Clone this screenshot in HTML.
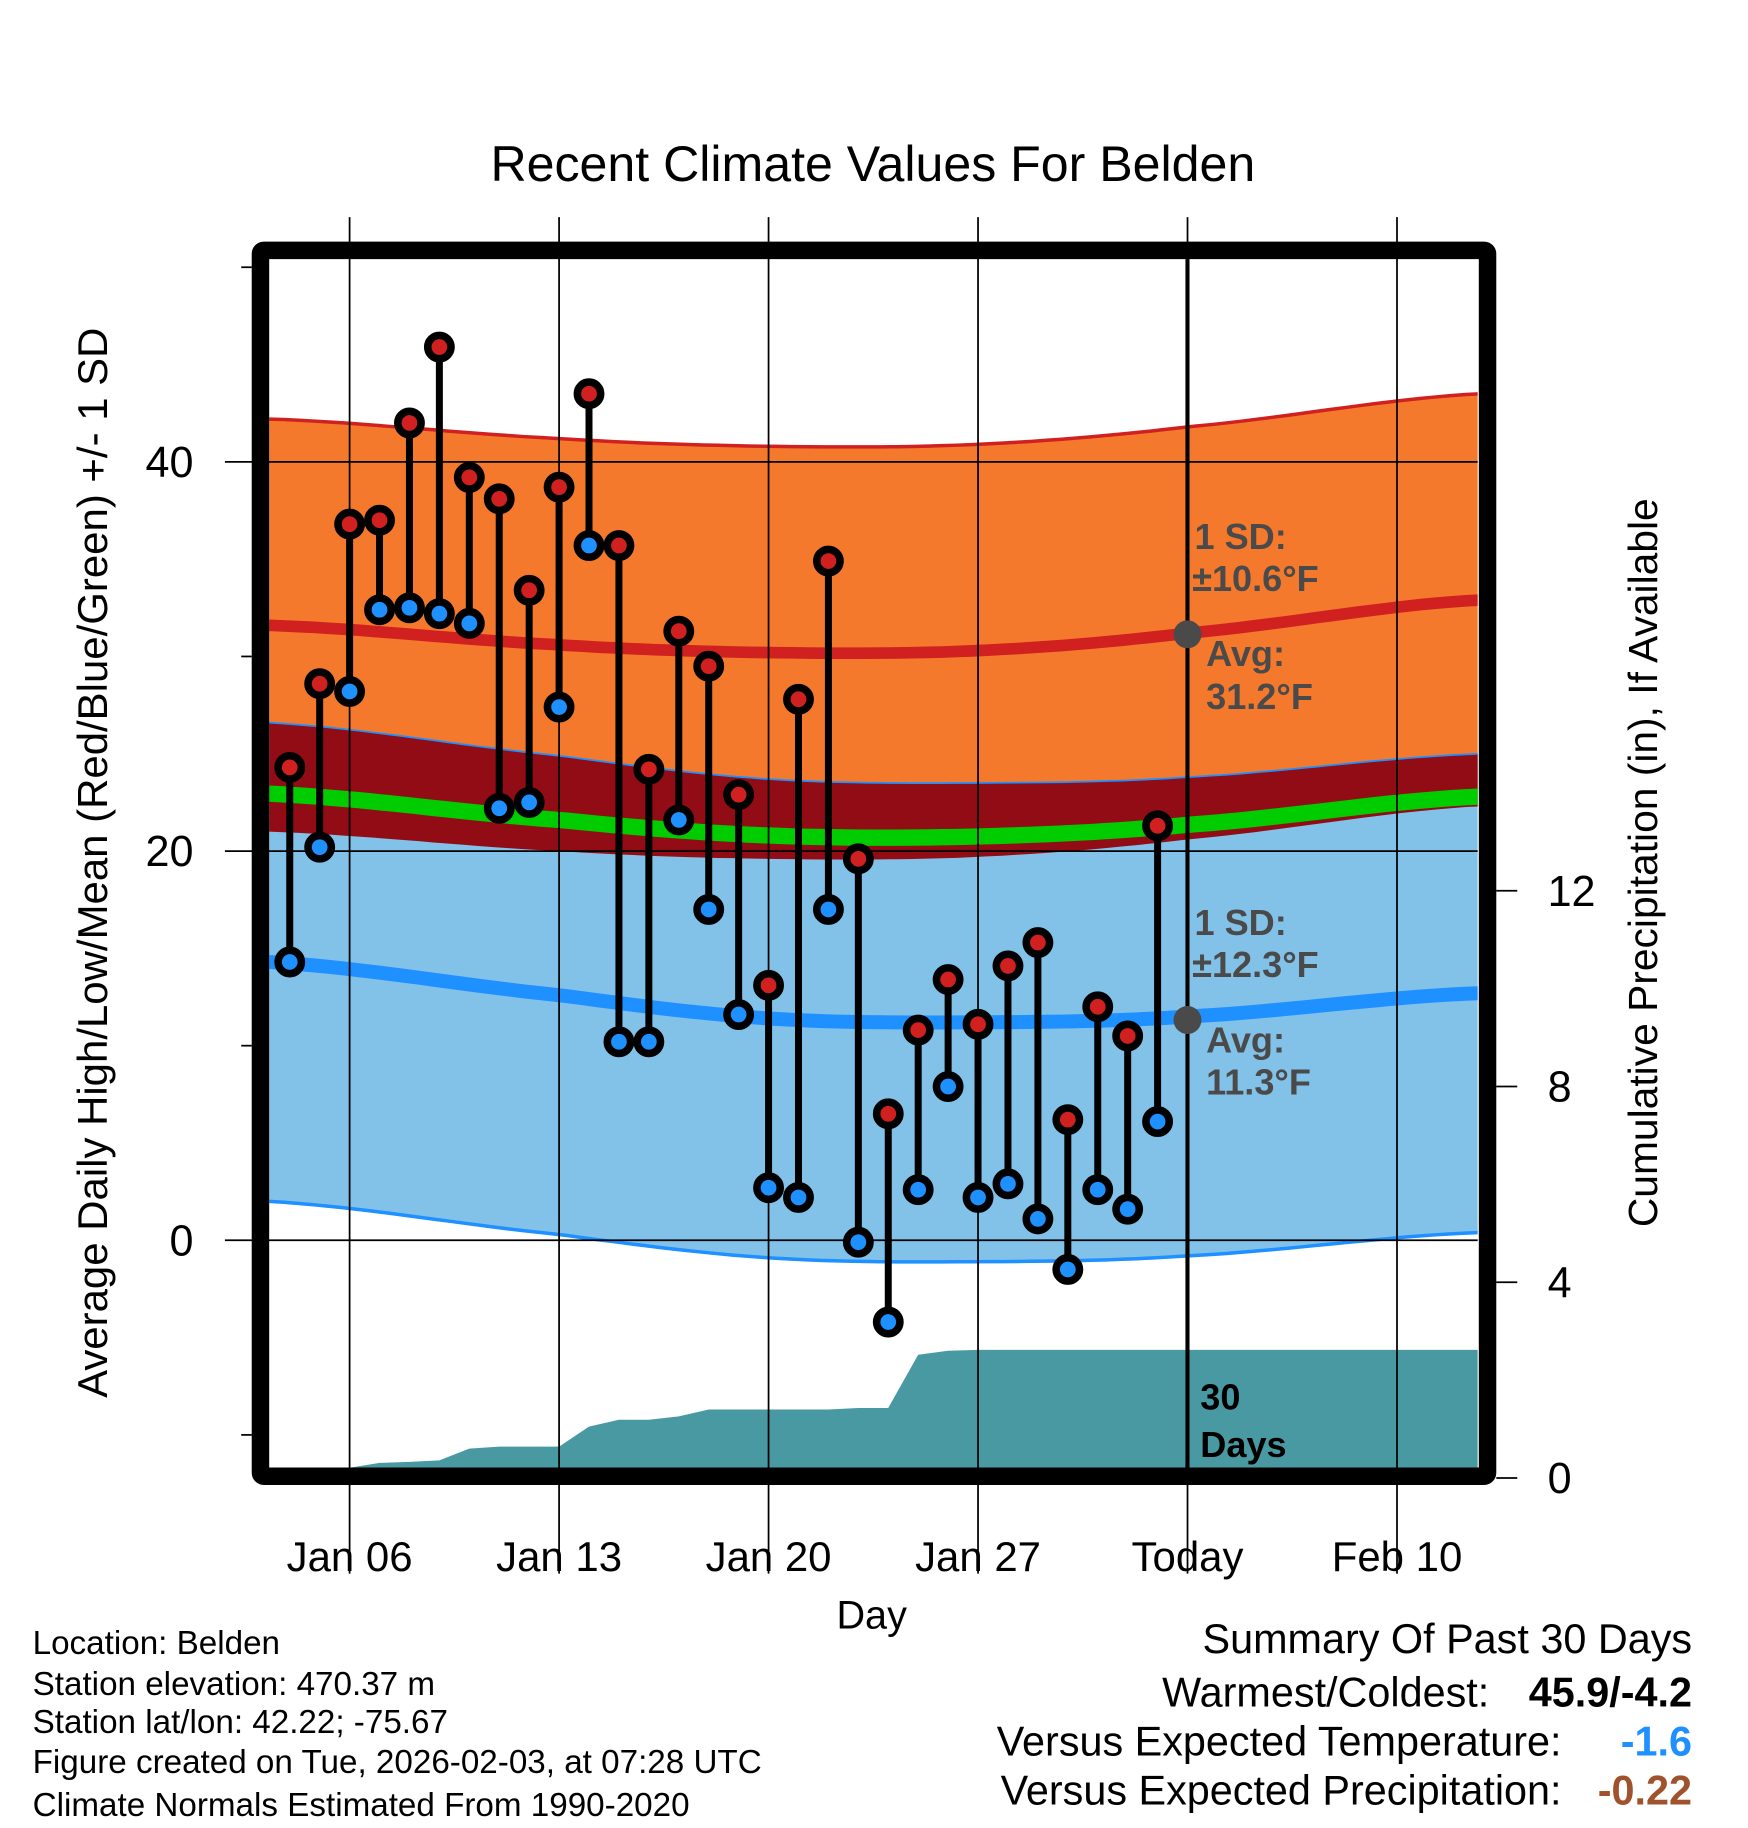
<!DOCTYPE html>
<html><head><meta charset="utf-8"><style>
html,body{margin:0;padding:0;background:#fff;}
svg{display:block;font-family:"Liberation Sans",sans-serif;}
</style></head><body>
<svg id="chart" width="1748" height="1828" viewBox="0 0 1500 1568" xmlns="http://www.w3.org/2000/svg">
<defs><clipPath id="plotclip"><rect x="231" y="222" width="1037" height="1037"/></clipPath></defs>
<text x="749" y="155" font-size="43" text-anchor="middle">Recent Climate Values For Belden</text>
<g id="grid"></g>
<g id="bands" clip-path="url(#plotclip)"></g>
<g id="precip" clip-path="url(#plotclip)"></g>
<g id="vgrid"></g>
<line x1="1019" y1="222" x2="1019" y2="1259" stroke="#000" stroke-width="3.5"/>
<g id="annot" font-weight="bold" font-size="31" fill="#4a4a4a">
<circle cx="1019" cy="544" r="12" fill="#4a4a4a"/>
<circle cx="1019" cy="875" r="12" fill="#4a4a4a"/>
<text x="1025" y="471">1 SD:</text>
<text x="1023" y="507">±10.6°F</text>
<text x="1035" y="571">Avg:</text>
<text x="1035" y="608">31.2°F</text>
<text x="1025" y="802">1 SD:</text>
<text x="1023" y="838">±12.3°F</text>
<text x="1035" y="903">Avg:</text>
<text x="1035" y="939">11.3°F</text>
<text x="1030" y="1209" fill="#000">30</text>
<text x="1030" y="1250" fill="#000">Days</text>
</g>
<g id="obs"></g>
<rect x="223.5" y="214.5" width="1053" height="1052" fill="none" stroke="#000" stroke-width="15" rx="3"/>
<g id="axes"></g>
<text transform="translate(92,740) rotate(-90)" font-size="36" text-anchor="middle">Average Daily High/Low/Mean (Red/Blue/Green) +/- 1 SD</text>
<text transform="translate(1422,740) rotate(-90)" font-size="35" text-anchor="middle">Cumulative Precipitation (in), If Available</text>
<text x="748" y="1397" font-size="34" text-anchor="middle">Day</text>
<g font-size="28.5">
<text x="28" y="1419">Location: Belden</text>
<text x="28" y="1454">Station elevation: 470.37 m</text>
<text x="28" y="1487">Station lat/lon: 42.22; -75.67</text>
<text x="28" y="1521">Figure created on Tue, 2026-02-03, at 07:28 UTC</text>
<text x="28" y="1558">Climate Normals Estimated From 1990-2020</text>
</g>
<g font-size="35.5">
<text x="1452" y="1418" text-anchor="end">Summary Of Past 30 Days</text>
<text x="1278" y="1464" text-anchor="end">Warmest/Coldest:</text>
<text x="1452" y="1464" text-anchor="end" font-weight="bold">45.9/-4.2</text>
<text x="1340" y="1506" text-anchor="end">Versus Expected Temperature:</text>
<text x="1452" y="1506" text-anchor="end" font-weight="bold" fill="#1e90ff">-1.6</text>
<text x="1340" y="1548" text-anchor="end">Versus Expected Precipitation:</text>
<text x="1452" y="1548" text-anchor="end" font-weight="bold" fill="#a0522d">-0.22</text>
</g>
</svg>
<script>
const days=[4,5,6,7,8,9,10,11,12,13,14,15,16,17,18,19,20,21,22,23,24,25,26,27,28,29,30,31,32,33];
const highs=[24.3,28.6,36.8,37.0,42.0,45.9,39.2,38.1,33.4,38.7,43.5,35.7,24.2,31.3,29.5,22.9,13.1,27.8,34.9,19.6,6.5,10.8,13.4,11.1,14.1,15.3,6.2,12.0,10.5,21.3];
const lows=[14.3,20.2,28.2,32.4,32.5,32.2,31.7,22.2,22.5,27.4,35.7,10.2,10.2,21.6,17.0,11.6,2.7,2.2,17.0,-0.1,-4.2,2.6,7.9,2.2,2.9,1.1,-1.5,2.6,1.6,6.1];
const normDays=[3.3,13,20,27,34,43.7];
const highMean=[31.6,30.6,30.2,30.3,31.2,32.9];
const lowMean=[14.3,12.6,11.4,11.2,11.5,12.7];
const highSD=10.6, lowSD=12.3;
const precipDays=[6,7,8,9,10,11,12,13,14,15,16,17,18,19,20,21,22,23,24,25,26,27,28,29,30,31,32,33,44];
const precipVals=[0.21,0.31,0.33,0.36,0.6,0.64,0.64,0.64,1.05,1.19,1.19,1.26,1.40,1.40,1.40,1.40,1.40,1.43,1.43,2.52,2.60,2.62,2.62,2.62,2.62,2.62,2.62,2.62,2.62];
const xTicks=[6,13,20,27,34,41];
const xLabels=["Jan 06","Jan 13","Jan 20","Jan 27","Today","Feb 10"];
const yTicks=[0,20,40];
const yMinor=[-10,10,30,50];
const y2Ticks=[0,4,8,12];

const NS="http://www.w3.org/2000/svg";
const X=d=>300+(d-6)*25.68;
const Y=t=>1064-t*16.7;
const Y2=p=>1268-p*42;
function mk(tag,attrs,parent){const e=document.createElementNS(NS,tag);for(const k in attrs)e.setAttribute(k,attrs[k]);parent.appendChild(e);return e;}
function interp(arr,d){
  const n=normDays.length;
  let i=0; while(i<n-2 && d>normDays[i+1]) i++;
  const t=Math.max(0,Math.min(1,(d-normDays[i])/(normDays[i+1]-normDays[i])));
  const p0=arr[Math.max(0,i-1)],p1=arr[i],p2=arr[i+1],p3=arr[Math.min(n-1,i+2)];
  const t2=t*t,t3=t2*t;
  return 0.5*((2*p1)+(-p0+p2)*t+(2*p0-5*p1+4*p2-p3)*t2+(-p0+3*p1-3*p2+p3)*t3);
}
const samp=[];for(let d=3.3;d<=43.8;d+=0.5)samp.push(d);
function curve(f){return samp.map(d=>X(d).toFixed(1)+","+Y(f(d)).toFixed(1));}
const bands=document.getElementById('bands');
const hTop=curve(d=>interp(highMean,d)+highSD), hBot=curve(d=>interp(highMean,d)-highSD);
const lTop=curve(d=>interp(lowMean,d)+lowSD), lBot=curve(d=>interp(lowMean,d)-lowSD);
let e;
e=mk('polygon',{points:hTop.concat(hBot.slice().reverse()).join(' '),fill:'#f5792c'},bands);

e=mk('polygon',{points:lTop.concat(lBot.slice().reverse()).join(' '),fill:'#82c1e8'},bands);

e=mk('polygon',{points:lTop.concat(hBot.slice().reverse()).join(' '),fill:'#910c14'},bands);

e=mk('polyline',{points:hTop.join(' '),fill:'none',stroke:'#d02020','stroke-width':3},bands);

e=mk('polyline',{points:lTop.join(' '),fill:'none',stroke:'#1e90ff','stroke-width':1.5},bands);

e=mk('polyline',{points:lBot.join(' '),fill:'none',stroke:'#1e90ff','stroke-width':3},bands);

e=mk('polyline',{points:curve(d=>(interp(highMean,d)+interp(lowMean,d))/2).join(' '),fill:'none',stroke:'#00cc00','stroke-width':14},bands);

e=mk('polyline',{points:curve(d=>interp(highMean,d)).join(' '),fill:'none',stroke:'#d02020','stroke-width':10},bands);

e=mk('polyline',{points:curve(d=>interp(lowMean,d)).join(' '),fill:'none',stroke:'#1e90ff','stroke-width':12},bands);


const pg=document.getElementById('precip');
let pts=[X(precipDays[0]).toFixed(1)+",1268"];
precipDays.forEach((d,i)=>pts.push(X(d).toFixed(1)+","+Y2(precipVals[i]).toFixed(1)));
pts.push(X(precipDays[precipDays.length-1]).toFixed(1)+",1268");
e=mk('polygon',{points:pts.join(' '),fill:'#4899a2'},pg);


const vg=document.getElementById('vgrid');
yTicks.forEach(t=>{
  const l=mk('line',{x1:193,x2:1268,y1:Y(t),y2:Y(t),stroke:'#000','stroke-width':1.5},vg);
  
});
xTicks.forEach(d=>{
  const l=mk('line',{x1:X(d),x2:X(d),y1:186,y2:1350,stroke:'#000','stroke-width':1.5},vg);
  
});

const og=document.getElementById('obs');
days.forEach((d,i)=>{
  const l=mk('line',{x1:X(d),x2:X(d),y1:Y(highs[i]),y2:Y(lows[i]),stroke:'#000','stroke-width':6},og);
  
});
days.forEach((d,i)=>{
  const h=mk('circle',{cx:X(d),cy:Y(highs[i]),r:10,fill:'#d02020',stroke:'#000','stroke-width':6.5},og);
  
  const lo=mk('circle',{cx:X(d),cy:Y(lows[i]),r:10,fill:'#1e90ff',stroke:'#000','stroke-width':6.5},og);
  
});

const ax=document.getElementById('axes');
yTicks.forEach(t=>{
  const tx=mk('text',{x:166,y:Y(t)+13,'font-size':37,'text-anchor':'end'},ax);tx.textContent=t;
  
});
yMinor.forEach(t=>{
  const l=mk('line',{x1:207,x2:216,y1:Y(t),y2:Y(t),stroke:'#000','stroke-width':1.5},ax);
  
});
y2Ticks.forEach(p=>{
  const l=mk('line',{x1:1284,x2:1302,y1:Y2(p),y2:Y2(p),stroke:'#000','stroke-width':1.5},ax);
  
  const tx=mk('text',{x:1328,y:Y2(p)+13,'font-size':37},ax);tx.textContent=p;
  
});
xTicks.forEach((d,i)=>{
  const tx=mk('text',{x:X(d),y:1348,'font-size':36,'text-anchor':'middle'},ax);tx.textContent=xLabels[i];
  
});
</script>
</body></html>
